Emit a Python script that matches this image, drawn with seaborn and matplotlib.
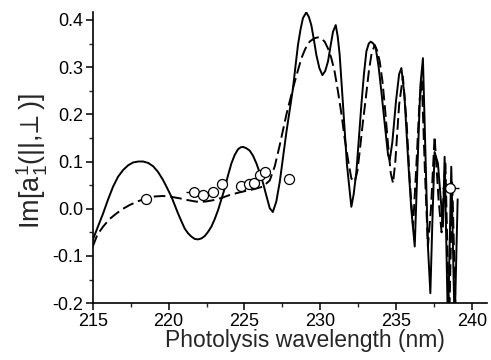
import matplotlib
matplotlib.use("Agg")
import matplotlib.pyplot as plt
import seaborn as sns
import pandas as pd
from matplotlib.ticker import MultipleLocator

# 实线 (理论曲线 1)
solid_x = [215.0, 215.35, 215.68, 216.0, 216.34, 216.67, 217.0, 217.33, 217.66, 218.0,
           218.32, 218.65, 218.98, 219.3, 219.63, 219.9, 220.19, 220.4, 220.62, 220.85,
           221.06, 221.28, 221.5, 221.72, 221.94, 222.16, 222.38, 222.6, 222.82, 223.04,
           223.26, 223.48, 223.7, 223.92, 224.14, 224.36, 224.58, 224.75, 224.91, 225.13,
           225.35, 225.57, 225.79, 226.01, 226.23, 226.45, 226.67, 226.87, 227.1, 227.33,
           227.55, 227.77, 228.0, 228.2, 228.37, 228.53, 228.7, 228.86, 229.08, 229.25,
           229.41, 229.58, 229.74, 229.94, 230.14, 230.33, 230.51, 230.68, 230.84, 231.02,
           231.15, 231.28, 231.5, 231.76, 232.05, 232.2, 232.38, 232.55, 232.71, 232.88,
           233.04, 233.2, 233.33, 233.5, 233.66, 233.85, 234.03, 234.25, 234.47, 234.58,
           234.75, 235.0, 235.2, 235.35, 235.55, 235.8, 236.0, 236.23, 236.4, 236.6,
           236.77, 236.95, 237.1, 237.26, 237.4, 237.54, 237.76, 238.09, 238.2, 238.42,
           238.64, 238.86, 239.06]
solid_y = [-0.066, -0.037, -0.010, 0.019, 0.047, 0.068, 0.082, 0.092, 0.098, 0.100,
           0.100, 0.097, 0.090, 0.078, 0.061, 0.044, 0.025, 0.008, -0.010, -0.027,
           -0.042, -0.052, -0.059, -0.064, -0.065, -0.063, -0.058, -0.049, -0.038, -0.022,
           -0.003, 0.020, 0.043, 0.071, 0.096, 0.114, 0.126, 0.130, 0.131, 0.128,
           0.123, 0.112, 0.096, 0.076, 0.054, 0.027, 0.001, -0.007, 0.015, 0.057,
           0.110, 0.163, 0.212, 0.255, 0.303, 0.347, 0.380, 0.404, 0.416, 0.406,
           0.389, 0.358, 0.326, 0.298, 0.283, 0.292, 0.312, 0.345, 0.375, 0.389,
           0.365, 0.326, 0.220, 0.093, 0.004, 0.030, 0.078, 0.150, 0.220, 0.285,
           0.333, 0.350, 0.354, 0.350, 0.340, 0.300, 0.248, 0.180, 0.114, 0.103,
           0.140, 0.230, 0.285, 0.298, 0.240, 0.100, 0.000, -0.080, 0.080, 0.260,
           0.319, 0.100, -0.080, -0.179, -0.020, 0.120, 0.096, -0.038, 0.110, -0.250,
           0.089, -0.250, 0.020]

# 虚线 (理论曲线 2)
dashed_x = [215.0, 215.3, 215.68, 216.1, 216.56, 217.0, 217.44, 218.0, 218.54, 219.1,
            219.63, 220.2, 220.73, 221.3, 221.83, 222.4, 222.93, 223.5, 224.03, 224.6,
            225.13, 225.7, 226.23, 226.67, 227.0, 227.33, 227.77, 228.2, 228.5, 228.76,
            229.0, 229.3, 229.6, 229.85, 230.05, 230.29, 230.5, 230.73, 230.95, 231.17,
            231.4, 231.61, 231.85, 232.05, 232.27, 232.45, 232.6, 232.8, 233.0, 233.2,
            233.37, 233.59, 233.75, 233.92, 234.1, 234.25, 234.47, 234.65, 234.8, 234.95,
            235.2, 235.45, 235.7, 235.9, 236.12, 236.35, 236.55, 236.7, 236.9, 237.1,
            237.3, 237.54, 237.8, 238.0, 238.25, 238.5, 238.7, 238.95]
dashed_y = [-0.080, -0.055, -0.038, -0.022, -0.010, 0.000, 0.008, 0.016, 0.022, 0.026,
            0.027, 0.025, 0.022, 0.018, 0.015, 0.015, 0.018, 0.023, 0.029, 0.034,
            0.038, 0.042, 0.047, 0.060, 0.090, 0.135, 0.200, 0.255, 0.290, 0.319,
            0.338, 0.354, 0.361, 0.363, 0.361, 0.354, 0.340, 0.319, 0.290, 0.248,
            0.200, 0.149, 0.100, 0.064, 0.057, 0.080, 0.121, 0.180, 0.234, 0.290,
            0.326, 0.347, 0.335, 0.312, 0.270, 0.220, 0.135, 0.075, 0.054, 0.100,
            0.220, 0.280, 0.180, 0.060, -0.038, 0.100, 0.230, 0.270, 0.080, -0.080,
            0.000, 0.153, 0.020, -0.050, 0.100, -0.250, 0.060, -0.250]

# 实验数据点
exp_x = [218.54, 222.27, 222.93, 223.55, 224.8, 225.3, 225.61, 226.05, 226.38, 227.94]
exp_y = [0.021, 0.030, 0.035, 0.052, 0.049, 0.052, 0.054, 0.071, 0.078, 0.063]

# 带误差棒的数据点
err_x = [221.66, 238.58]
err_y = [0.035, 0.043]
err_xerr = [0.5, 0.55]
err_yerr = [0.006, 0.010]

sns.set_style("ticks")
plt.rcParams['font.family'] = ['Liberation Sans', 'DejaVu Sans']
plt.rcParams['mathtext.default'] = 'regular'

fig = plt.figure(figsize=(4.91, 3.6), dpi=100)
ax = fig.add_axes([0.189, 0.158, 0.803, 0.809])

solid_df = pd.DataFrame({"x": solid_x, "y": solid_y})
dashed_df = pd.DataFrame({"x": dashed_x, "y": dashed_y})
exp_df = pd.DataFrame({"x": exp_x, "y": exp_y})

sns.lineplot(data=solid_df, x="x", y="y", ax=ax, color="black", lw=1.4,
             sort=False, estimator=None)
sns.lineplot(data=dashed_df, x="x", y="y", ax=ax, color="black", lw=1.4,
             sort=False, estimator=None, dashes=False, linestyle=(0, (6, 2.5)))

ax.errorbar(err_x, err_y, xerr=err_xerr, yerr=err_yerr, fmt='o', ms=7,
            mfc='white', mec='black', mew=0.9, ecolor='black', elinewidth=1.0,
            capsize=0, zorder=4)
sns.scatterplot(data=exp_df, x="x", y="y", ax=ax, s=52, facecolor="white",
                edgecolor="black", linewidth=0.9, zorder=5)

ax.set_xlim(215, 241)
ax.set_ylim(-0.2, 0.417)
ax.xaxis.set_major_locator(MultipleLocator(5))
ax.xaxis.set_minor_locator(MultipleLocator(2.5))
ax.yaxis.set_minor_locator(MultipleLocator(0.05))
ax.set_yticks([-0.2, -0.1, 0.0, 0.1, 0.2, 0.3, 0.4])
ax.set_yticklabels(["-0.2", "-0.1", "0.0", "0.1", "0.2", "0.3", "0.4"])

ax.tick_params(which='major', direction='out', length=5, width=1.1, labelsize=13,
               colors='black', pad=2)
ax.tick_params(which='minor', direction='out', length=3, width=1.0)
sns.despine(ax=ax)
for sp in ['left', 'bottom']:
    ax.spines[sp].set_linewidth(1.2)
    ax.spines[sp].set_color('black')

ax.set_xlabel("Photolysis wavelength (nm)", fontsize=16.5)
ax.set_ylabel(r"Im[$a_1^1$(||,$\!\perp$)]", fontsize=19.5)
ax.xaxis.set_label_coords(0.539, -0.09)
ax.yaxis.set_label_coords(-0.108, 0.49)

fig.savefig("out.png", dpi=100)
